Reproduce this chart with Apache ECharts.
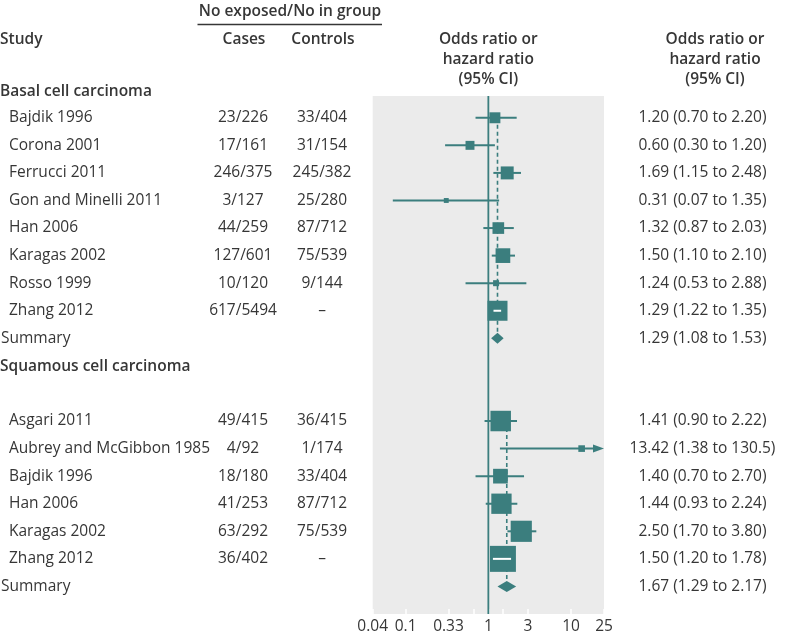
<!DOCTYPE html>
<html><head><meta charset="utf-8">
<script src="https://cdn.jsdelivr.net/npm/echarts@6/dist/echarts.min.js"></script>
<style>html,body{margin:0;padding:0;background:#fff}#c{width:785px;height:637px}</style>
</head><body><div id="c"></div>
<script>
// ---------- data ----------
const basalStudies = ['Bajdik 1996','Corona 2001','Ferrucci 2011','Gon and Minelli 2011','Han 2006','Karagas 2002','Rosso 1999','Zhang 2012'];
const basalCases = ['23/226','17/161','246/375','3/127','44/259','127/601','10/120','617/5494'];
const basalControls = ['33/404','31/154','245/382','25/280','87/712','75/539','9/144','–'];
const basalOR = [1.20,0.60,1.69,0.31,1.32,1.50,1.24,1.29];
const basalLow = [0.70,0.30,1.15,0.07,0.87,1.10,0.53,1.22];
const basalHigh = [2.20,1.20,2.48,1.35,2.03,2.10,2.88,1.35];
const basalWeight = [30,20,42,6,34,54,9,100];
const basalSummary = [1.29,1.08,1.53];

const squamousStudies = ['Asgari 2011','Aubrey and McGibbon 1985','Bajdik 1996','Han 2006','Karagas 2002','Zhang 2012'];
const squamousCases = ['49/415','4/92','18/180','41/253','63/292','36/402'];
const squamousControls = ['36/415','1/174','33/404','87/712','75/539','–'];
const squamousOR = [1.41,13.42,1.40,1.44,2.50,1.50];
const squamousLow = [0.90,1.38,0.70,0.93,1.70,1.20];
const squamousHigh = [2.22,130.5,2.70,2.24,3.80,1.78];
const squamousWeight = [105,11,54,103,112,169];
const squamousSummary = [1.67,1.29,2.17];

const tickValues = [0.04,0.1,0.33,1,3,10,25];
const tickLabels = ['0.04','0.1','0.33','1','3','10','25'];
const minorTicks = [0.67,1.5];

// ---------- styles ----------
const TEAL = '#3b7e7e';
const TEXT = '#363636';
const FF = '"Open Sans", sans-serif';
const FS = 15.5;
const L = Math.log10;
const XMIN = L(0.04), XMAX = L(25);
const YMIN = 0.21, YMAX = 19.0;

const fmt = v => v >= 100 ? v.toFixed(1) : v.toFixed(2);
const ciText = (o, l, h) => fmt(o) + ' (' + fmt(l) + ' to ' + fmt(h) + ')';

// ---------- rows ----------
const rows = [];
rows.push({row: 0, kind: 'heading', label: 'Basal cell carcinoma'});
basalStudies.forEach((s, i) => rows.push({row: 1 + i, kind: 'study', label: s, cases: basalCases[i], controls: basalControls[i],
  or: basalOR[i], lo: basalLow[i], hi: basalHigh[i], w: basalWeight[i]}));
const basalSumRow = 1 + basalStudies.length;
rows.push({row: basalSumRow, kind: 'summary', label: 'Summary', or: basalSummary[0], lo: basalSummary[1], hi: basalSummary[2]});
const sqHeadRow = basalSumRow + 1;
rows.push({row: sqHeadRow, kind: 'heading', label: 'Squamous cell carcinoma'});
const sqStart = sqHeadRow + 2;
squamousStudies.forEach((s, i) => rows.push({row: sqStart + i, kind: 'study', label: s, cases: squamousCases[i], controls: squamousControls[i],
  or: squamousOR[i], lo: squamousLow[i], hi: squamousHigh[i], w: squamousWeight[i]}));
const sqSumRow = sqStart + squamousStudies.length;
rows.push({row: sqSumRow, kind: 'summary', label: 'Summary', or: squamousSummary[0], lo: squamousSummary[1], hi: squamousSummary[2]});

const studyRows = rows.filter(r => r.kind === 'study');
const summaryRows = rows.filter(r => r.kind === 'summary');
const dashData = [
  [L(basalSummary[0]), 1, basalSumRow],
  [L(squamousSummary[0]), sqStart, sqSumRow]
];

// ---------- render functions ----------
function renderStudy(params, api) {
  const r = studyRows[params.dataIndex];
  const c = api.coord([api.value(0), api.value(3)]);
  const xMaxPx = api.coord([XMAX, r.row])[0];
  let pLo = api.coord([api.value(1), r.row])[0];
  let pHi = api.coord([api.value(2), r.row])[0];
  const arrow = api.value(2) > XMAX;
  if (arrow) pHi = xMaxPx - 10;
  const side = 2 * Math.sqrt(api.value(4));
  const half = side / 2;
  const ch = [
    {type: 'line', shape: {x1: pLo, y1: c[1], x2: pHi, y2: c[1]}, style: {stroke: TEAL, lineWidth: 2}},
    {type: 'rect', shape: {x: c[0] - half, y: c[1] - half, width: side, height: side}, style: {fill: TEAL}}
  ];
  if (arrow) ch.push({type: 'polygon', shape: {points: [[xMaxPx, c[1]], [xMaxPx - 11, c[1] - 4], [xMaxPx - 11, c[1] + 4]]}, style: {fill: TEAL}});
  if (pLo > c[0] - half && pHi < c[0] + half) {
    ch.push({type: 'line', shape: {x1: Math.max(pLo - 2, c[0] - half + 3), y1: c[1], x2: Math.min(pHi + 2, c[0] + half - 3), y2: c[1]},
      style: {stroke: '#ffffff', lineWidth: 2}});
  }
  return {type: 'group', children: ch};
}

function renderSummary(params, api) {
  const y = api.value(3);
  const pO = api.coord([api.value(0), y]);
  const pL = api.coord([api.value(1), y]);
  const pH = api.coord([api.value(2), y]);
  const h = 5.5;
  return {type: 'polygon', shape: {points: [[pL[0], pO[1]], [pO[0], pO[1] - h], [pH[0], pO[1]], [pO[0], pO[1] + h]]}, style: {fill: TEAL}};
}

function renderDash(params, api) {
  const a = api.coord([api.value(0), api.value(1)]);
  const b = api.coord([api.value(0), api.value(2)]);
  return {type: 'line', shape: {x1: a[0], y1: a[1], x2: b[0], y2: b[1]}, style: {stroke: TEAL, lineWidth: 1.6, lineDash: [4, 3]}};
}

function renderRef(params, api) {
  const a = api.coord([api.value(0), YMIN]);
  const b = api.coord([api.value(0), YMAX]);
  return {type: 'line', shape: {x1: a[0], y1: a[1], x2: b[0], y2: b[1]}, style: {stroke: TEAL, lineWidth: 1.8}};
}

function txt(x, y, text, align, bold) {
  return {type: 'text', x: x, y: y, style: {text: text, fill: TEXT, fontSize: FS, fontFamily: FF, fontWeight: bold ? 600 : 'normal',
    align: align, verticalAlign: 'middle'}};
}

function renderText(params, api) {
  const r = rows[params.dataIndex];
  const y = api.coord([0, api.value(1)])[1];
  const ch = [];
  if (r.kind === 'heading') ch.push(txt(0, y + 1, r.label, 'left', true));
  if (r.kind === 'summary') ch.push(txt(1, y, r.label, 'left', false));
  if (r.kind === 'study') {
    ch.push(txt(9, y, r.label, 'left', false));
    ch.push(txt(243, y, r.cases, 'center', false));
    ch.push(txt(322, y, r.controls, 'center', false));
  }
  if (r.kind !== 'heading') ch.push(txt(702.5, y, ciText(r.or, r.lo, r.hi), 'center', false));
  return {type: 'group', children: ch};
}

function tickLabel(v) {
  for (let i = 0; i < tickValues.length; i++) if (Math.abs(L(tickValues[i]) - v) < 1e-6) return tickLabels[i];
  return '';
}

const hb = (x, y, t, align) => ({type: 'text', x: x, y: y, style: {text: t, fill: TEXT, fontSize: FS, fontFamily: FF, fontWeight: 600, align: align || 'center', verticalAlign: 'middle'}});

const chart = echarts.init(document.getElementById('c'), null, {renderer: 'canvas'});
chart.setOption({
  animation: false,
  backgroundColor: '#ffffff',
  grid: {left: 372.7, right: 181, top: 96, bottom: 23, show: true, backgroundColor: '#ebebeb', borderWidth: 0},
  xAxis: {
    type: 'value', min: XMIN, max: XMAX,
    axisLine: {show: false}, splitLine: {show: false},
    axisTick: {show: true, inside: true, length: 5, lineStyle: {color: '#ffffff', width: 1.5},
      customValues: tickValues.concat(minorTicks).map(L)},
    axisLabel: {customValues: tickValues.map(L), formatter: tickLabel, color: TEXT, fontSize: 15.5, fontFamily: FF, margin: 5}
  },
  yAxis: {type: 'value', inverse: true, min: YMIN, max: YMAX, show: false},
  graphic: [
    hb(290, 12, 'No exposed/No in group'),
    {type: 'line', shape: {x1: 197.5, y1: 24.5, x2: 382, y2: 24.5}, style: {stroke: TEXT, lineWidth: 1.3}},
    hb(0, 40, 'Study', 'left'),
    hb(244, 40, 'Cases'),
    hb(323, 40, 'Controls'),
    hb(488.3, 40, 'Odds ratio or'), hb(488.3, 60, 'hazard ratio'), hb(488.3, 80, '(95% CI)'),
    hb(715, 40, 'Odds ratio or'), hb(715, 60, 'hazard ratio'), hb(715, 80, '(95% CI)')
  ],
  series: [
    {type: 'custom', name: 'ref', clip: false, z: 2, renderItem: renderRef, data: [[L(1)]], silent: true},
    {type: 'custom', name: 'pooled', clip: false, z: 3, renderItem: renderDash, data: dashData, silent: true},
    {type: 'custom', name: 'studies', clip: false, z: 4, renderItem: renderStudy,
      data: studyRows.map(r => [L(r.or), L(r.lo), L(r.hi), r.row, r.w]), silent: true},
    {type: 'custom', name: 'summary', clip: false, z: 4, renderItem: renderSummary,
      data: summaryRows.map(r => [L(r.or), L(r.lo), L(r.hi), r.row]), silent: true},
    {type: 'custom', name: 'text', clip: false, z: 5, renderItem: renderText,
      data: rows.map(r => [0, r.row]), silent: true}
  ]
});
</script></body></html>
